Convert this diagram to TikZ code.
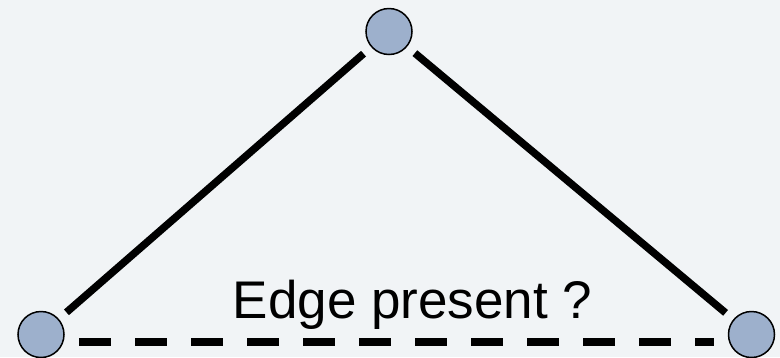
\documentclass[tikz,border=0pt]{standalone}
\usepackage{fontspec}
\setmainfont{Liberation Sans}
\definecolor{bgc}{HTML}{F1F4F6}
\definecolor{nodefill}{HTML}{9DB0CC}
\tikzset{
  vert/.style={circle, draw=black, line width=1.5pt, fill=nodefill, minimum size=46pt, inner sep=0pt},
  edgeline/.style={line width=7.5pt, black, line cap=butt},
}
\begin{document}
\begin{tikzpicture}[x=1pt,y=-1pt]
\fill[bgc] (0,0) rectangle (780,357);
\useasboundingbox (0,0) rectangle (780,357);
\node[vert] (top) at (389,31.5) {};
\node[vert] (bl) at (41,334.5) {};
\node[vert] (br) at (751.5,334.5) {};
\draw[edgeline, shorten <=10pt, shorten >=10pt] (top) -- (bl);
\draw[edgeline, shorten <=10pt, shorten >=10pt] (top) -- (br);
\draw[edgeline, dash pattern=on 32pt off 24pt, shorten <=38pt, shorten >=37.5pt] ([yshift=-7.5pt]bl.center) -- ([yshift=-7.5pt]br.center);
\node[anchor=base, font=\fontsize{53pt}{60pt}\selectfont, inner sep=0pt] (lbl) at (412.5,318) {Edge present ?};
\end{tikzpicture}
\end{document}
